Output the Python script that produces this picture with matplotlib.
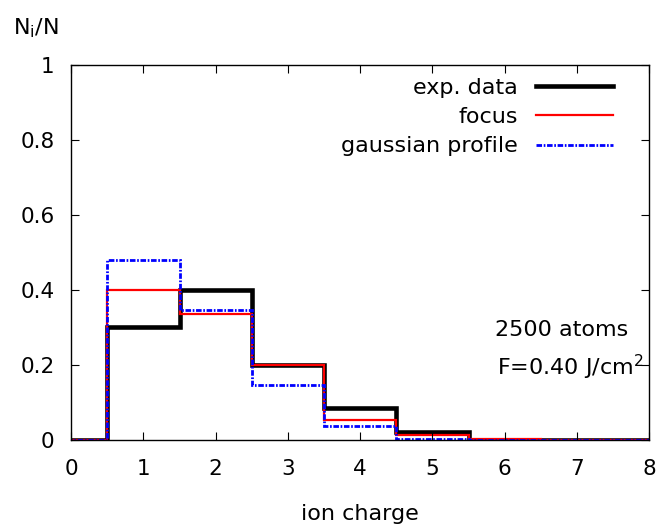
import numpy as np
import matplotlib
matplotlib.use("Agg")
import matplotlib.pyplot as plt

plt.rcParams['font.family'] = ['DejaVu Sans']

charge = np.arange(0, 9)
exp_data = [0.0, 0.30, 0.40, 0.20, 0.085, 0.02, 0.0, 0.0, 0.0]
focus = [0.0, 0.40, 0.335, 0.20, 0.053, 0.014, 0.002, 0.0, 0.0]
gauss = [0.0, 0.48, 0.345, 0.145, 0.036, 0.003, 0.0, 0.0, 0.0]
xticks = np.arange(0, 9)
yticks = [0, 0.2, 0.4, 0.6, 0.8, 1]

edges = np.append(charge - 0.5, charge[-1] + 0.5)

fig = plt.figure(figsize=(6.59, 5.28), dpi=100)
ax = fig.add_axes([0.108, 0.167, 0.877, 0.71])

ax.stairs(exp_data, edges, color='black', lw=3.3, label='exp. data')
ax.stairs(focus, edges, color='red', lw=1.6, label='focus')
ax.stairs(gauss, edges, color='blue', lw=2.0, linestyle=(0, (2, 0.6, 0.6, 0.6)),
          label='gaussian profile')

ax.set_xlim(0, 8)
ax.set_ylim(0, 1)
ax.set_xticks(xticks)
ax.set_yticks(yticks)
ax.set_yticklabels(['0', '0.2', '0.4', '0.6', '0.8', '1'])
ax.tick_params(direction='in', top=True, right=True, labelsize=15.5, length=6)
ax.tick_params(axis='x', pad=14)
ax.tick_params(axis='y', pad=12)
for s in ax.spines.values():
    s.set_linewidth(1.0)

fig.text(0.5465, 0.015, 'ion charge', fontsize=16, ha='center', va='baseline')
fig.text(0.02, 0.934, r'N$_\mathregular{i}$/N', fontsize=16, va='baseline')

fig.text(0.953, 0.364, '2500 atoms', ha='right', va='baseline', fontsize=16)
fig.text(0.976, 0.290, r'F=0.40 J/cm$^\mathregular{2}$', ha='right', va='baseline',
         fontsize=16)

ax.legend(loc='upper right', bbox_to_anchor=(0.938, 0.966), frameon=False,
          markerfirst=False, fontsize=16, handlelength=3.5, labelspacing=0.42,
          borderaxespad=0.0, borderpad=0.0, handletextpad=0.8)

fig.savefig('out.png', dpi=100)
